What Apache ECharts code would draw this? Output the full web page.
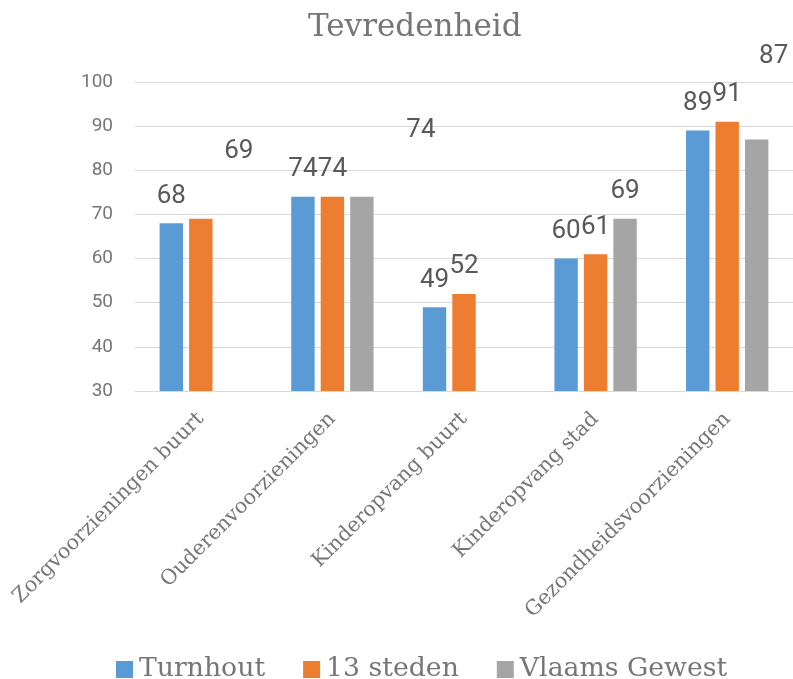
<!DOCTYPE html>
<html>
<head>
<meta charset="utf-8">
<script src="https://cdn.jsdelivr.net/npm/echarts@6/dist/echarts.min.js"></script>
<style>
html, body { margin: 0; padding: 0; background: #fff; }
#chart { width: 793px; height: 679px; }
</style>
</head>
<body>
<div id="chart"></div>
<script>
var categories = ['Zorgvoorzieningen buurt', 'Ouderenvoorzieningen', 'Kinderopvang buurt', 'Kinderopvang stad', 'Gezondheidsvoorzieningen'];
var seriesNames = ['Turnhout', '13 steden', 'Vlaams Gewest'];
var turnhout = [68, 74, 49, 60, 89];
var steden = [69, 74, 52, 61, 91];
var vlaams = [null, 74, null, 69, 87];
var yTicks = { min: 30, max: 100, step: 10 };

var colors = ['#5b9bd5', '#ed7d31', '#a5a5a5'];
var serifFont = '"DejaVu Serif", serif';
var numFont = 'Roboto, "Noto Sans", sans-serif';

// labels that were dragged away from their bar in the original
var labelMoves = {
    '1-0': [38, -40],
    '2-1': [59, -39],
    '2-4': [17, -56]
};

function buildData(values, s) {
    return values.map(function (v, i) {
        var item = { value: v };
        var mv = labelMoves[s + '-' + i];
        if (mv) item.label = { offset: mv };
        return item;
    });
}

var myChart = echarts.init(document.getElementById('chart'));
var lists = [turnhout, steden, vlaams];

var option = {
    animation: false,
    color: colors,
    title: {
        text: 'Tevredenheid',
        left: 303,
        top: 7,
        textStyle: { fontFamily: serifFont, fontSize: 31, fontWeight: 'normal', color: '#767676' }
    },
    legend: {
        data: seriesNames,
        left: 111,
        top: 651,
        itemWidth: 17,
        itemHeight: 17,
        itemGap: 38,
        icon: 'rect',
        textStyle: { fontFamily: serifFont, fontSize: 26.7, color: '#767676', padding: [0, 0, 0, 1] }
    },
    grid: { left: 135, top: 82, width: 662, height: 309 },
    xAxis: {
        type: 'category',
        data: categories,
        axisLine: { lineStyle: { color: '#d9d9d9', width: 1 } },
        axisTick: { show: false },
        axisLabel: {
            rotate: 45,
            interval: 0,
            margin: 25,
            fontFamily: serifFont,
            fontSize: 20.5,
            color: '#767676'
        }
    },
    yAxis: {
        type: 'value',
        min: yTicks.min,
        max: yTicks.max,
        interval: yTicks.step,
        axisLine: { show: false },
        axisTick: { show: false },
        splitLine: { lineStyle: { color: '#d9d9d9', width: 1 } },
        axisLabel: { margin: 22, fontFamily: numFont, fontSize: 19, color: '#767676' }
    },
    series: lists.map(function (vals, s) {
        return {
            name: seriesNames[s],
            type: 'bar',
            barWidth: 23.4,
            barGap: '26%',
            data: buildData(vals, s),
            label: {
                show: true,
                position: 'top',
                distance: 14,
                fontFamily: numFont,
                fontSize: 26,
                color: '#595959'
            }
        };
    })
};

myChart.setOption(option);
</script>
</body>
</html>
